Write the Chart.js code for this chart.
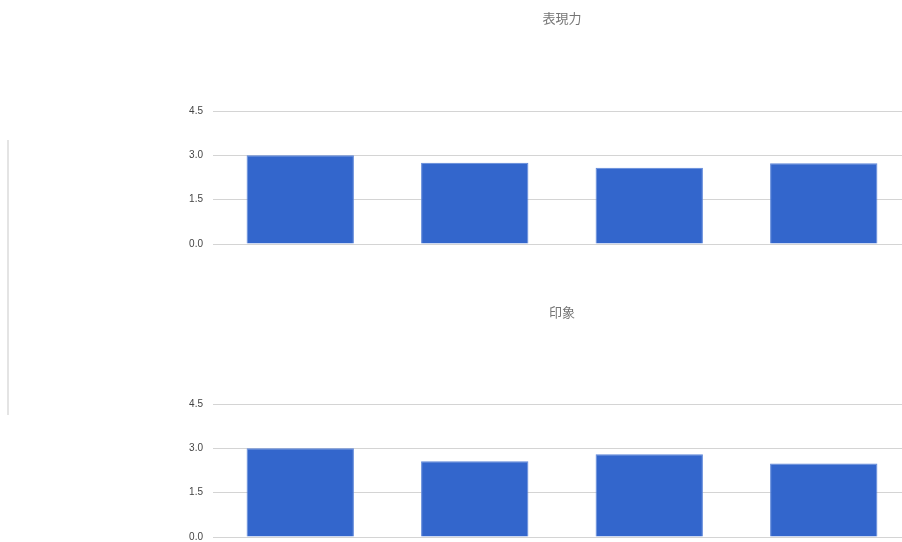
<!DOCTYPE html>
<html>
<head>
<meta charset="utf-8">
<script src="https://cdn.jsdelivr.net/npm/chart.js@4.4.1/dist/chart.umd.min.js"></script>
<style>
  html, body { margin: 0; padding: 0; overflow: hidden; background: #fff; width: 902px; height: 542px; }
  .box { position: absolute; left: 0; width: 911px; height: 260px; }
  #edge { position: absolute; left: 7px; top: 140px; width: 2px; height: 275px; background: #e4e4e4; }
</style>
</head>
<body>
<div id="edge"></div>
<div class="box" style="top:0"><canvas id="chart1"></canvas></div>
<div class="box" style="top:294px"><canvas id="chart2"></canvas></div>
<script>
// categories and values
var categories = ['1', '2', '3', '4'];
var expressionValues = [3.0, 2.75, 2.58, 2.73];   // 表現力
var impressionValues = [3.0, 2.56, 2.80, 2.49];   // 印象
var yTicks = [0, 1.5, 3.0, 4.5];

// title centred over the plot area, like the original
var centerTitle = {
    id: 'centerTitle',
    afterDraw: function(chart, args, opts) {
        var ctx = chart.ctx;
        var area = chart.chartArea;
        ctx.save();
        ctx.font = '13px "Noto Sans CJK JP", sans-serif';
        ctx.fillStyle = '#757575';
        ctx.textAlign = 'center';
        ctx.textBaseline = 'middle';
        ctx.fillText(opts.text, (area.left + area.right) / 2, 18);
        ctx.restore();
    }
};

function makeChart(id, title, values, padTop, padBottom) {
    var ctx = document.getElementById(id);
    return new Chart(ctx, {
        type: 'bar',
        data: {
            labels: categories,
            datasets: [{
                label: title,
                data: values,
                backgroundColor: '#3366cc',
                borderColor: '#5c85d9',
                borderWidth: 1,
                categoryPercentage: 0.615,
                barPercentage: 1
            }]
        },
        options: {
            responsive: false,
            animation: false,
            layout: { padding: { top: padTop, bottom: padBottom, left: 0, right: 0 } },
            plugins: {
                legend: { display: false },
                tooltip: { enabled: false },
                centerTitle: { text: title }
            },
            scales: {
                x: { display: false },
                y: {
                    min: 0,
                    max: 4.5,
                    afterBuildTicks: function(scale) {
                        scale.ticks = yTicks.map(function(v) { return { value: v }; });
                    },
                    afterFit: function(scale) { scale.width = 213; },
                    border: { display: false },
                    grid: { color: '#d4d4d4', drawTicks: false },
                    ticks: {
                        padding: 10,
                        color: '#444',
                        font: { family: 'Arial, "Liberation Sans", sans-serif', size: 10 },
                        callback: function(v) { return Number(v).toFixed(1); }
                    }
                }
            }
        },
        plugins: [centerTitle]
    });
}

document.getElementById('chart1').width = 911;
document.getElementById('chart1').height = 260;
document.getElementById('chart2').width = 911;
document.getElementById('chart2').height = 260;

makeChart('chart1', '表現力', expressionValues, 111, 16);
makeChart('chart2', '印象', impressionValues, 110, 17);
</script>
</body>
</html>
